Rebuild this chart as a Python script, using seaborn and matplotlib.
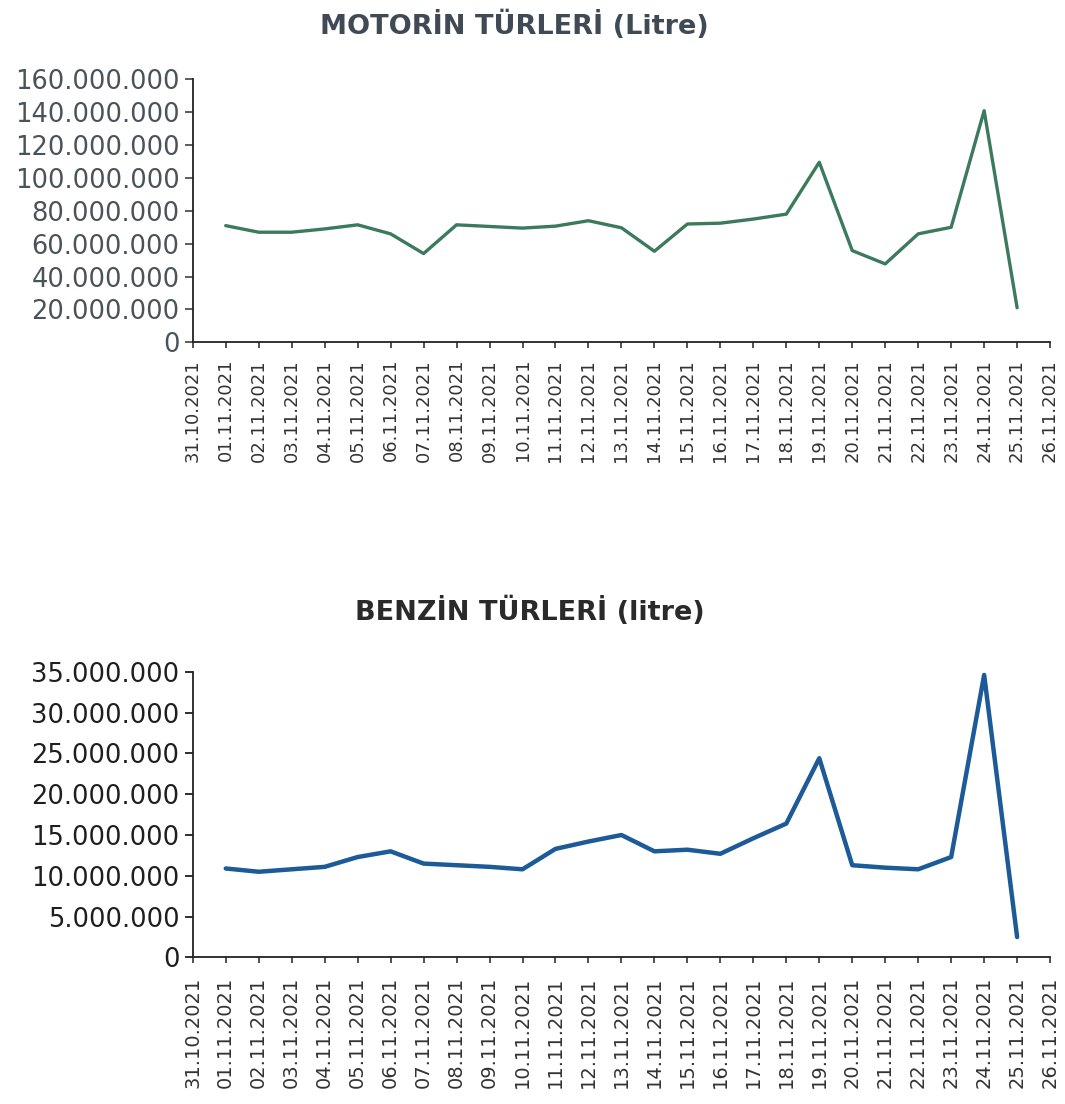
import matplotlib
matplotlib.use("Agg")
import matplotlib.pyplot as plt
from matplotlib.ticker import FuncFormatter
import seaborn as sns

# x axis labels (31.10.2021 .. 26.11.2021)
tick_dates = ["31.10.2021"] + [f"{d:02d}.11.2021" for d in range(1, 27)]
data_dates = [f"{d:02d}.11.2021" for d in range(1, 26)]

# daily sales, litres
motorin = [71e6, 67e6, 67e6, 69e6, 71.5e6, 66e6, 54e6, 71.5e6, 70.5e6, 69.5e6,
           70.7e6, 74e6, 69.7e6, 55.4e6, 72e6, 72.5e6, 75e6, 78e6, 109.6e6,
           55.8e6, 47.7e6, 66e6, 70e6, 141e6, 21e6]
benzin = [10.9e6, 10.5e6, 10.8e6, 11.1e6, 12.3e6, 13.0e6, 11.5e6, 11.3e6, 11.1e6,
          10.8e6, 13.3e6, 14.2e6, 15.0e6, 13.0e6, 13.2e6, 12.7e6, 14.6e6, 16.4e6,
          24.4e6, 11.3e6, 11.0e6, 10.8e6, 12.3e6, 34.6e6, 2.5e6]

x_pos = [tick_dates.index(d) for d in data_dates]

sns.set_style("ticks")
plt.rcParams['font.family'] = ['DejaVu Sans']


def dotted(v, _):
    return f"{v:,.0f}".replace(",", ".")


def style_axis(ax, ymax, ystep, ycolor, xsize, xpad):
    ax.set_xlim(0, len(tick_dates) - 1)
    ax.set_ylim(0, ymax)
    ax.set_yticks(range(0, int(ymax) + 1, int(ystep)))
    ax.yaxis.set_major_formatter(FuncFormatter(dotted))
    ax.set_xticks(range(len(tick_dates)))
    ax.set_xticklabels(tick_dates, rotation=90, fontsize=xsize, color="#333333")
    ax.tick_params(axis="y", labelsize=18.5, colors=ycolor, length=6, width=1.3)
    ax.tick_params(axis="x", length=4, width=1.2, color="#333333", pad=xpad)
    sns.despine(ax=ax)
    for s in ("left", "bottom"):
        ax.spines[s].set_color("#222222")
        ax.spines[s].set_linewidth(1.3)
    ax.set_xlabel("")
    ax.set_ylabel("")


fig = plt.figure(figsize=(10.65, 11.04), dpi=100)
ax1 = fig.add_axes([0.181, 0.690, 0.805, 0.238])
ax2 = fig.add_axes([0.181, 0.1327, 0.805, 0.2589])

sns.lineplot(x=x_pos, y=motorin, ax=ax1, color="#3b7a5c", linewidth=2.4)
sns.lineplot(x=x_pos, y=benzin, ax=ax2, color="#1d5a98", linewidth=3.2)

style_axis(ax1, 160e6, 20e6, "#4a525a", 13, 8)
style_axis(ax2, 35e6, 5e6, "#1e1e1e", 14, 10)

fig.text(0.483, 0.977, "MOTORİN TÜRLERİ (Litre)", ha="center", va="center",
         fontsize=19.5, fontweight="bold", color="#3f4a55")
fig.text(0.498, 0.446, "BENZİN TÜRLERİ (litre)", ha="center", va="center",
         fontsize=19.5, fontweight="bold", color="#2a2a2a")

fig.savefig("out.png", dpi=100)
